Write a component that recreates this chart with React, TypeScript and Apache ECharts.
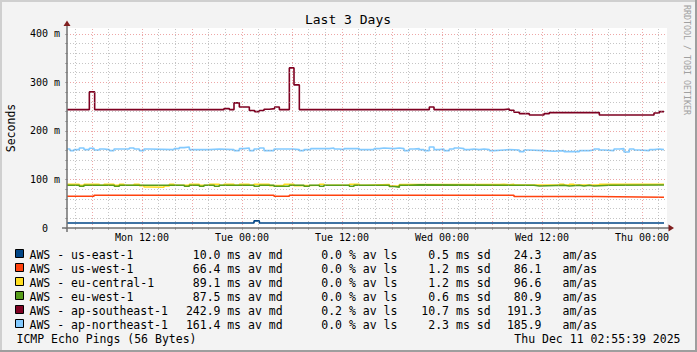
import React, { useEffect, useRef } from "react";
import * as echarts from "echarts";

// ---- Axis / grid values (hours since Mon 00:00, milliseconds) ----
const xStart = 3;
const xEnd = 75;
const xLabelValues = [12, 24, 36, 48, 60, 72];
const xLabelTexts = ["Mon 12:00", "Tue 00:00", "Tue 12:00", "Wed 00:00", "Wed 12:00", "Thu 00:00"];
const xMajorGrid = [6, 12, 18, 24, 30, 36, 42, 48, 54, 60, 66, 72];
const xMinorGrid = [4, 8, 10, 14, 16, 20, 22, 26, 28, 32, 34, 38, 40, 44, 46, 50, 52, 56, 58, 62, 64, 68, 70, 74];
const yMax = 412;
const yMajorGrid = [100, 200, 300, 400];
const yMinorGrid = [20, 40, 60, 80, 120, 140, 160, 180, 220, 240, 260, 280, 320, 340, 360, 380];

// ---- Series (step change points: hour, value in ms) ----
const eastTimes = [3, 25.44, 26.08, 74.64];
const eastVals = [10.3, 14.6, 10.3, 10.3];

const westTimes = [3, 6.24, 27.84, 29.68, 56.64, 66.24, 74.64];
const westVals = [65.4, 67.4, 65.4, 67.4, 64.8, 63.4, 63.4];

const centralTimes = [3, 4.48, 5.04, 6.88, 7.44, 8.64, 9.28, 9.84, 11.04, 11.68, 12.24, 12.88, 14.64, 15.28, 15.84, 17.68, 18.88, 20.08, 21.28, 21.84, 23.04, 23.68, 24.88, 25.44, 27.28, 27.84, 29.04, 30.24, 30.88, 33.28, 33.84, 36.88, 38.08, 39.0, 41.68, 42.88, 54.88, 55.44, 56.08, 56.64, 62.08, 62.64, 63.28, 63.84, 66.88, 74.64];
const centralVals = [90.1, 88.2, 90.1, 88.2, 90.1, 88.2, 90.1, 88.2, 90.1, 87.3, 84.6, 83.9, 86.6, 90.1, 88.2, 90.1, 88.2, 90.1, 88.2, 90.1, 88.2, 90.1, 88.2, 90.1, 87.3, 88.2, 90.1, 87.3, 88.2, 90.1, 88.2, 90.1, 88.2, 89.5, 86.2, 89.5, 90.1, 88.8, 90.1, 88.4, 90.1, 88.4, 90.1, 88.4, 90.1, 90.1];

const westEuTimes = [3, 4.48, 5.04, 8.68, 9.28, 17.08, 17.68, 18.88, 19.44, 20.68, 21.28, 25.44, 26.08, 27.84, 29.68, 31.44, 32.08, 33.28, 33.84, 36.88, 37.44, 41.68, 42.28, 42.88, 44.08, 45.28, 59.04, 59.68, 62.64, 63.28, 64.48, 65.04, 65.68, 66.24, 68.08, 74.64];
const westEuVals = [88.0, 86.0, 88.0, 86.0, 88.0, 86.0, 88.0, 86.0, 88.0, 86.0, 88.0, 86.0, 88.0, 86.0, 88.0, 86.0, 88.0, 86.0, 88.0, 86.0, 88.0, 85.6, 84.2, 88.0, 88.8, 88.0, 86.6, 88.0, 86.6, 88.0, 86.6, 88.0, 86.6, 88.0, 88.7, 88.7];

const seTimes = [3, 5.68, 6.32, 21.84, 22.48, 23.04, 23.68, 24.88, 25.52, 26.08, 26.64, 27.28, 27.92, 28.48, 29.68, 30.24, 30.88, 46.48, 47.04, 55.44, 56.08, 56.64, 57.28, 58.48, 60.24, 60.88, 66.88, 73.44, 74.08, 74.64];
const seVals = [243.9, 280.4, 243.9, 246.0, 243.9, 257.7, 249.4, 241.9, 239.8, 241.9, 244.6, 246.0, 249.4, 243.9, 329.8, 294.8, 243.9, 249.4, 243.9, 245.3, 242.5, 238.4, 235.6, 232.9, 235.6, 237.7, 232.9, 237.0, 239.8, 239.8];

const neTimes = [3, 3.36, 3.84, 4.48, 5.04, 5.68, 6.24, 6.88, 7.44, 8.08, 8.64, 10.48, 11.04, 11.68, 12.24, 12.88, 15.84, 16.48, 17.04, 17.68, 20.08, 21.28, 23.04, 23.68, 24.24, 24.88, 25.44, 26.08, 26.64, 27.84, 30.08, 30.88, 31.44, 32.24, 34.48, 35.04, 35.68, 36.24, 38.08, 39.84, 40.48, 41.04, 42.24, 42.88, 43.44, 44.08, 44.64, 45.28, 45.84, 46.48, 47.04, 47.68, 48.24, 48.88, 49.44, 50.08, 50.64, 51.28, 51.84, 52.48, 53.04, 53.68, 54.24, 55.44, 56.08, 57.28, 57.84, 58.48, 60.24, 61.44, 62.64, 64.48, 65.68, 66.24, 66.88, 67.44, 68.64, 69.28, 69.84, 70.48, 71.04, 71.68, 72.88, 73.44, 74.08, 74.64];
const neVals = [162.8, 159.4, 161.5, 164.9, 161.5, 164.2, 160.8, 162.8, 161.5, 159.4, 162.8, 164.9, 162.8, 159.4, 162.8, 161.5, 163.5, 165.6, 166.9, 161.5, 162.8, 161.5, 159.4, 163.5, 164.9, 159.4, 162.8, 164.9, 159.4, 162.8, 161.5, 159.4, 161.5, 163.5, 164.9, 162.8, 161.5, 163.5, 161.5, 163.5, 164.9, 163.5, 164.9, 163.5, 159.4, 162.8, 163.5, 161.5, 159.4, 166.9, 161.5, 162.8, 159.4, 162.8, 164.9, 163.5, 161.5, 162.8, 161.5, 162.8, 161.5, 159.4, 160.8, 161.5, 160.8, 157.3, 160.8, 159.4, 158.0, 159.4, 157.3, 159.4, 160.8, 162.8, 160.8, 159.4, 162.8, 163.5, 156.6, 162.8, 160.8, 159.4, 161.5, 162.8, 161.5, 161.5];

// ---- Legend ----
const hostNames = ["AWS - us-east-1", "AWS - us-west-1", "AWS - eu-central-1", "AWS - eu-west-1", "AWS - ap-southeast-1", "AWS - ap-northeast-1"];
const hostColors = ["#004586", "#ff420e", "#ffde20", "#579d1c", "#7e0021", "#83caff"];
const avgMedian = ["10.0", "66.4", "89.1", "87.5", "242.9", "161.4"];
const avgLoss = ["0.0", "0.0", "0.0", "0.0", "0.2", "0.0"];
const stdDev = ["0.5", "1.2", "1.2", "0.6", "10.7", "2.3"];
const amas = ["24.3", "86.1", "96.6", "80.9", "191.3", "185.9"];
const seriesTimes = [eastTimes, westTimes, centralTimes, westEuTimes, seTimes, neTimes];
const seriesVals = [eastVals, westVals, centralVals, westEuVals, seVals, neVals];

const MONO = '"DejaVu Sans Mono", monospace';

export default function App() {
  const ref = useRef<HTMLDivElement>(null);
  useEffect(() => {
    if (!ref.current) return;
    const chart = echarts.init(ref.current, null, { renderer: "svg" });

    const gridMinor = "rgba(150,150,150,0.55)";
    const gridMajor = "rgba(222,79,79,0.5)";
    const markData: any[] = [];
    xMinorGrid.forEach((v) => markData.push({ xAxis: v, lineStyle: { color: gridMinor } }));
    xMajorGrid.forEach((v) => markData.push({ xAxis: v, lineStyle: { color: gridMajor } }));
    yMinorGrid.forEach((v) => markData.push({ yAxis: v, lineStyle: { color: gridMinor } }));
    yMajorGrid.forEach((v) => markData.push({ yAxis: v, lineStyle: { color: gridMajor } }));

    const dataSeries = hostNames.map((name, i) => ({
      name,
      type: "line",
      step: "end",
      symbol: "none",
      z: 3,
      lineStyle: { color: hostColors[i], width: 1.6 },
      itemStyle: { color: hostColors[i] },
      data: seriesTimes[i].map((t, j) => [t, seriesVals[i][j]]),
    }));

    const graphics: any[] = [];
    // frame shading
    graphics.push({ type: "rect", shape: { x: 0, y: 0, width: 697, height: 2 }, style: { fill: "#cfcfcf" } });
    graphics.push({ type: "rect", shape: { x: 0, y: 0, width: 2, height: 352 }, style: { fill: "#cfcfcf" } });
    graphics.push({ type: "rect", shape: { x: 0, y: 350, width: 697, height: 2 }, style: { fill: "#9e9e9e" } });
    graphics.push({ type: "rect", shape: { x: 695, y: 0, width: 2, height: 352 }, style: { fill: "#9e9e9e" } });
    // axes
    graphics.push({ type: "line", z: 10, shape: { x1: 67, y1: 232, x2: 67, y2: 24 }, style: { stroke: "#707070", lineWidth: 1.5 } });
    graphics.push({ type: "line", z: 10, shape: { x1: 62, y1: 228, x2: 670, y2: 228 }, style: { stroke: "#707070", lineWidth: 1.5 } });
    graphics.push({ type: "polygon", z: 10, shape: { points: [[67, 20.5], [63.5, 26], [70.5, 26]] }, style: { fill: "#801f1f" } });
    graphics.push({ type: "polygon", z: 10, shape: { points: [[674, 228], [668.5, 224.5], [668.5, 231.5]] }, style: { fill: "#801f1f" } });
    // title, unit, watermark
    graphics.push({ type: "text", x: 348, y: 19.5, style: { text: "Last 3 Days", font: `13px ${MONO}`, fill: "#000", align: "center", verticalAlign: "middle" } });
    graphics.push({ type: "text", x: 11, y: 128, rotation: Math.PI / 2, style: { text: "Seconds", font: `11.5px ${MONO}`, fill: "#000", align: "center", verticalAlign: "middle" } });
    graphics.push({ type: "text", x: 687, y: 60, rotation: -Math.PI / 2, style: { text: "RRDTOOL / TOBI OETIKER", font: `8.3px ${MONO}`, fill: "#a0a0a0", align: "center", verticalAlign: "middle" } });
    // legend
    const lf = `11.5px ${MONO}`;
    hostNames.forEach((name, i) => {
      const cy = 254.6 + 14 * i;
      graphics.push({ type: "rect", shape: { x: 15.5, y: 249.5 + 14 * i, width: 8, height: 8 }, style: { fill: hostColors[i], stroke: "#000", lineWidth: 1 } });
      const t = (text: string, x: number, align: string) =>
        graphics.push({ type: "text", x, y: cy, style: { text, font: lf, fill: "#000", align, verticalAlign: "middle" } });
      t(name, 29.5, "left");
      t(avgMedian[i], 220.5, "right");
      t("ms av md", 227.2, "left");
      t(avgLoss[i], 342, "right");
      t("% av ls", 349, "left");
      t(stdDev[i], 449, "right");
      t("ms sd", 456, "left");
      t(amas[i], 541.5, "right");
      t("am/as", 562.5, "left");
    });
    graphics.push({ type: "text", x: 16.5, y: 338.6, style: { text: "ICMP Echo Pings (56 Bytes)", font: lf, fill: "#000", align: "left", verticalAlign: "middle" } });
    graphics.push({ type: "text", x: 680.5, y: 338.6, style: { text: "Thu Dec 11 02:55:39 2025", font: lf, fill: "#000", align: "right", verticalAlign: "middle" } });

    chart.setOption({
      animation: false,
      backgroundColor: "#f3f3f3",
      grid: { left: 67, top: 28, width: 600, height: 200, show: true, backgroundColor: "#ffffff", borderWidth: 0 },
      xAxis: {
        type: "value",
        min: xStart,
        max: xEnd,
        axisLine: { show: false },
        splitLine: { show: false },
        axisTick: { show: true, length: 2, customValues: [...xMinorGrid, ...xMajorGrid].sort((a, b) => a - b), lineStyle: { color: "#b0b0b0" } },
        axisLabel: {
          customValues: xLabelValues,
          margin: 4,
          fontFamily: MONO,
          fontSize: 10,
          color: "#000",
          formatter: (v: number) => {
            const k = xLabelValues.indexOf(v);
            return k >= 0 ? xLabelTexts[k] : "";
          },
        },
      },
      yAxis: {
        type: "value",
        min: 0,
        max: yMax,
        interval: 20,
        axisLine: { show: false },
        splitLine: { show: false },
        axisTick: { show: true, length: 2, lineStyle: { color: "#b0b0b0" } },
        axisLabel: {
          margin: 7,
          fontFamily: MONO,
          fontSize: 10,
          color: "#000",
          showMaxLabel: false,
          formatter: (v: number) => (v === 0 ? "0\u00a0\u00a0" : v % 100 === 0 ? `${v} m` : ""),
        },
      },
      series: [
        {
          type: "line",
          data: [],
          z: 1,
          silent: true,
          markLine: {
            silent: true,
            symbol: ["none", "none"],
            label: { show: false },
            lineStyle: { type: [1, 2], width: 1 },
            emphasis: { disabled: true },
            data: markData,
          },
        },
        ...dataSeries,
      ],
      graphic: graphics,
    });
    return () => chart.dispose();
  }, []);
  return (
    <div style={{ position: "fixed", left: 0, top: 0, width: 697, height: 352 }}>
      <div ref={ref} style={{ width: 697, height: 352 }} />
    </div>
  );
}
